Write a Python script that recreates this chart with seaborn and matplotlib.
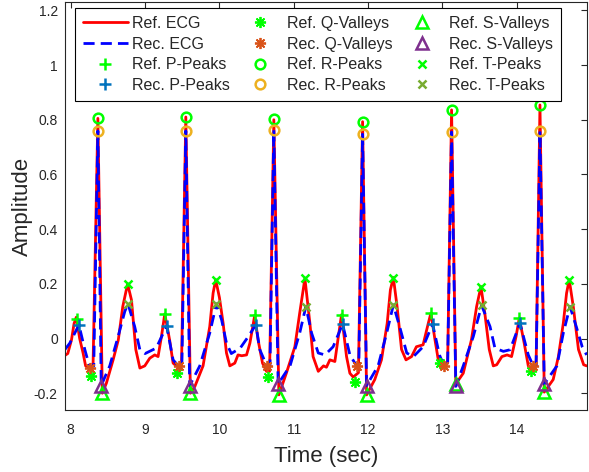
import matplotlib
matplotlib.use("Agg")
import matplotlib.pyplot as plt
import seaborn as sns
import pandas as pd
from matplotlib.ticker import FuncFormatter

sns.set_theme(style="white")
plt.rcParams["font.family"] = ["Liberation Sans", "DejaVu Sans"]
plt.rcParams["axes.unicode_minus"] = False

# -----------------------------
# Data
# -----------------------------
ref_t = [7.92, 7.96, 8.01, 8.045, 8.075, 8.12, 8.166, 8.20, 8.25, 8.30, 8.365, 8.425,
         8.48, 8.57, 8.64, 8.70, 8.765, 8.817, 8.875, 8.93, 8.996, 9.063, 9.13, 9.175,
         9.22, 9.265, 9.33, 9.377, 9.42, 9.49, 9.548, 9.61, 9.67, 9.78, 9.87, 9.915,
         9.95, 10.0, 10.05, 10.095, 10.14, 10.207, 10.25, 10.30, 10.365, 10.41, 10.475,
         10.52, 10.58, 10.634, 10.675, 10.732, 10.80, 10.90, 11.015, 11.08, 11.15,
         11.217, 11.26, 11.33, 11.40, 11.44, 11.486, 11.553, 11.60, 11.643, 11.71,
         11.755, 11.80, 11.87, 11.926, 11.98, 12.09, 12.18, 12.257, 12.30, 12.34,
         12.39, 12.45, 12.51, 12.585, 12.65, 12.74, 12.81, 12.845, 12.90, 12.944,
         12.98, 13.02, 13.07, 13.123, 13.18, 13.28, 13.39, 13.46, 13.518, 13.57,
         13.63, 13.684, 13.73, 13.80, 13.87, 13.93, 13.99, 14.034, 14.10, 14.155,
         14.20, 14.26, 14.312, 14.37, 14.49, 14.56, 14.626, 14.67, 14.706, 14.76,
         14.83, 14.90, 14.94]
ref_y = [-0.062, -0.055, -0.005, 0.055, 0.078, 0.0, -0.053, -0.10, -0.105, -0.10, 0.805, -0.20,
         -0.163, -0.078, -0.005, 0.117, 0.20, 0.141, -0.04, -0.108, -0.10, -0.072, -0.06, -0.066,
         0.007, 0.09, -0.005, -0.09, -0.10, -0.10, 0.81, -0.20, -0.175, -0.10, 0.044, 0.166,
         0.215, 0.15, 0.056, -0.053, -0.10, -0.09, -0.06, -0.063, -0.06, -0.017, 0.085,
         -0.005, -0.09, -0.12, -0.12, 0.80, -0.206, -0.127, -0.03, 0.093, 0.22,
         0.056, -0.066, -0.12, -0.10, -0.105, -0.078, -0.084, 0.007, 0.087, -0.066,
         -0.127, -0.141, -0.125, 0.793, -0.206, -0.15, -0.078, 0.056, 0.178, 0.223,
         0.117, -0.04, -0.078, -0.066, -0.03, -0.023, 0.056, 0.093, -0.005, -0.078,
         -0.09, -0.105, -0.09, 0.836, -0.166, -0.127, -0.005, 0.117, 0.19, 0.093,
         -0.04, -0.10, -0.096, -0.066, -0.06, -0.066, 0.007, 0.075, -0.017, -0.10,
         -0.12, -0.10, 0.854, -0.196, -0.15, -0.066, 0.056, 0.166, 0.215, 0.117,
         -0.04, -0.096, -0.10]

rec_t = [7.92, 7.987, 8.11, 8.19, 8.256, 8.31, 8.365, 8.41, 8.525, 8.637, 8.727, 8.77,
         8.86, 8.93, 9.0, 9.15, 9.29, 9.377, 9.454, 9.495, 9.548, 9.60, 9.736, 9.87,
         9.96, 10.03, 10.095, 10.16, 10.28, 10.37, 10.49, 10.544, 10.64, 10.68, 10.732,
         10.79, 10.95, 11.08, 11.163, 11.24, 11.33, 11.42, 11.53, 11.657, 11.755,
         11.845, 11.875, 11.926, 11.98, 12.135, 12.25, 12.34, 12.43, 12.52, 12.61,
         12.74, 12.868, 12.96, 13.02, 13.07, 13.123, 13.18, 13.28, 13.415, 13.527,
         13.64, 13.706, 13.82, 13.91, 14.043, 14.155, 14.22, 14.26, 14.312, 14.37,
         14.54, 14.626, 14.716, 14.80, 14.88, 14.94]
rec_y = [-0.041, -0.017, 0.05, -0.041, -0.106, -0.10, 0.759, -0.172, -0.10, 0.007, 0.099, 0.127,
         0.044, -0.041, -0.055, -0.035, 0.046, -0.078, -0.102, -0.10, 0.759, -0.172, -0.10, 0.02,
         0.127, 0.068, -0.017, -0.055, -0.035, 0.0, 0.05, -0.041, -0.102, -0.10, 0.763,
         -0.166, -0.10, 0.02, 0.117, 0.02, -0.053, -0.06, -0.03, 0.053, -0.06,
         -0.10, -0.10, 0.747, -0.172, -0.10, 0.02, 0.123, 0.038, -0.053, -0.066,
         -0.03, 0.053, -0.06, -0.099, -0.095, 0.755, -0.175, -0.10, 0.007, 0.121,
         0.044, -0.035, -0.047, -0.041, 0.056, -0.06, -0.099, -0.10, 0.759, -0.166,
         -0.10, 0.02, 0.117, 0.044, -0.03, -0.06]

p_ref_t = [8.08, 9.265, 10.475, 11.643, 12.845, 14.034]
p_ref_y = [0.072, 0.09, 0.085, 0.087, 0.093, 0.075]
p_rec_t = [8.11, 9.29, 10.49, 11.657, 12.868, 14.043]
p_rec_y = [0.05, 0.046, 0.05, 0.053, 0.053, 0.056]
q_ref_t = [8.27, 9.436, 10.647, 11.82, 12.966, 14.19]
q_ref_y = [-0.136, -0.127, -0.139, -0.16, -0.088, -0.12]
q_rec_t = [8.256, 9.454, 10.64, 11.845, 13.02, 14.22]
q_rec_y = [-0.106, -0.102, -0.102, -0.10, -0.099, -0.099]
r_ref_t = [8.365, 9.548, 10.732, 11.926, 13.123, 14.312]
r_ref_y = [0.806, 0.81, 0.802, 0.793, 0.836, 0.854]
r_rec_t = [8.365, 9.548, 10.732, 11.926, 13.123, 14.312]
r_rec_y = [0.759, 0.759, 0.763, 0.747, 0.755, 0.759]
s_ref_t = [8.426, 9.61, 10.80, 11.98, 13.18, 14.37]
s_ref_y = [-0.20, -0.20, -0.206, -0.206, -0.166, -0.196]
s_rec_t = [8.41, 9.60, 10.79, 11.98, 13.18, 14.37]
s_rec_y = [-0.172, -0.172, -0.166, -0.172, -0.175, -0.166]
t_ref_t = [8.77, 9.95, 11.15, 12.34, 13.518, 14.706]
t_ref_y = [0.20, 0.215, 0.22, 0.223, 0.19, 0.215]
t_rec_t = [8.77, 9.96, 11.163, 12.34, 13.527, 14.716]
t_rec_y = [0.127, 0.127, 0.117, 0.123, 0.121, 0.117]

ref_df = pd.DataFrame({"t": ref_t, "y": ref_y})
rec_df = pd.DataFrame({"t": rec_t, "y": rec_y})

# -----------------------------
# Layout
# -----------------------------
fig = plt.figure(figsize=(5.89, 4.72), dpi=100)
ax = fig.add_axes([0.110, 0.131, 0.886, 0.865])

sns.lineplot(data=ref_df, x="t", y="y", sort=False, estimator=None,
             color="red", linewidth=2.0, ax=ax, label="Ref. ECG")
sns.lineplot(data=rec_df, x="t", y="y", sort=False, estimator=None,
             color="blue", linewidth=2.0, ax=ax, label="Rec. ECG")
ax.lines[1].set_dashes((4, 2.2))

green = (0, 1, 0)
asterisk = (8, 2, 0)
markers = [
    (p_ref_t, p_ref_y, "+", green, 8, "Ref. P-Peaks"),
    (p_rec_t, p_rec_y, "+", (0, 0.447, 0.741), 8, "Rec. P-Peaks"),
    (q_ref_t, q_ref_y, asterisk, green, 8, "Ref. Q-Valleys"),
    (q_rec_t, q_rec_y, asterisk, (0.85, 0.325, 0.098), 8, "Rec. Q-Valleys"),
    (r_ref_t, r_ref_y, "o", green, 7, "Ref. R-Peaks"),
    (r_rec_t, r_rec_y, "o", (0.929, 0.694, 0.125), 7, "Rec. R-Peaks"),
    (s_ref_t, s_ref_y, "^", green, 8, "Ref. S-Valleys"),
    (s_rec_t, s_rec_y, "^", (0.494, 0.184, 0.556), 8, "Rec. S-Valleys"),
    (t_ref_t, t_ref_y, "x", green, 6, "Ref. T-Peaks"),
    (t_rec_t, t_rec_y, "x", (0.466, 0.674, 0.188), 6, "Rec. T-Peaks"),
]
for tt, yy, m, c, ms, lab in markers:
    hollow = m in ("o", "^")
    ax.plot(tt, yy, linestyle="none", marker=m, markersize=ms,
            markerfacecolor="none" if hollow else c,
            markeredgecolor=c, markeredgewidth=1.3 if m is asterisk else 1.8, label=lab)

ax.set_xlim(7.92, 14.94)
ax.set_ylim(-0.262, 1.231)
ax.set_xticks(range(8, 15))
ax.set_yticks([-0.2, 0, 0.2, 0.4, 0.6, 0.8, 1.0, 1.2])
ax.yaxis.set_major_formatter(FuncFormatter(lambda v, p: f"{v:g}"))
ax.tick_params(direction="in", length=4, width=0.8, top=True, right=True,
               labelsize=10, colors=(0.15, 0.15, 0.15))
ax.tick_params(axis="x", pad=9)
ax.tick_params(axis="y", pad=5)
for s in ax.spines.values():
    s.set_color((0.15, 0.15, 0.15))
    s.set_linewidth(0.8)

ax.set_xlabel("Time (sec)", fontsize=16, color=(0.15, 0.15, 0.15), labelpad=7)
ax.set_ylabel("Amplitude", fontsize=16, color=(0.15, 0.15, 0.15), labelpad=1)

handles, labels = ax.get_legend_handles_labels()
leg = ax.legend(handles, labels, ncol=3, loc="upper left",
                bbox_to_anchor=(75 / 589, 1 - 8 / 472), bbox_transform=fig.transFigure,
                borderaxespad=0, fontsize=11.5, handlelength=2.8, handletextpad=0.3,
                columnspacing=0.45, labelspacing=0.35, fancybox=False, framealpha=1,
                edgecolor="black", borderpad=0.5)
leg.get_frame().set_linewidth(0.8)

fig.savefig("out.png", dpi=100)
